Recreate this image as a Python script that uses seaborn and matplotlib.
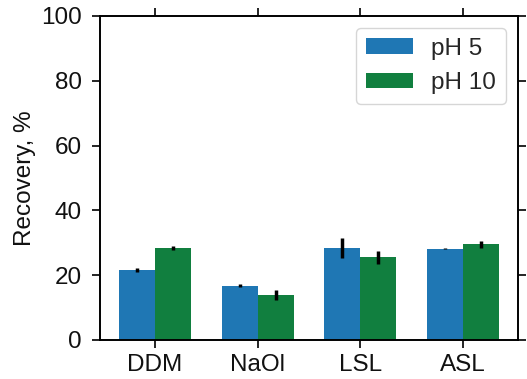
import numpy as np
import pandas as pd
import matplotlib
matplotlib.use("Agg")
import matplotlib.pyplot as plt
import seaborn as sns

# Recovery of each collector at two pH values (mean and error)
collectors = ["DDM", "NaOl", "LSL", "ASL"]
ph_labels = ["pH 5", "pH 10"]
recovery_ph5 = [21.6, 16.8, 28.4, 28.2]
recovery_ph10 = [28.5, 13.9, 25.5, 29.5]
error_ph5 = [0.7, 0.5, 3.0, 0.15]
error_ph10 = [0.6, 1.5, 2.0, 1.1]
y_ticks = [0, 20, 40, 60, 80, 100]

colors = ["#1f77b4", "#117f3f"]
FS = 17.5

df = pd.DataFrame({
    "collector": collectors * 2,
    "ph": [ph_labels[0]] * 4 + [ph_labels[1]] * 4,
    "recovery": recovery_ph5 + recovery_ph10,
})

sns.set_theme(style="ticks")
plt.rcParams["font.family"] = ["Liberation Sans", "DejaVu Sans"]

fig = plt.figure(figsize=(5.27, 3.79), dpi=100)
ax = fig.add_axes([0.19, 0.103, 0.793, 0.855])

sns.barplot(data=df, x="collector", y="recovery", hue="ph",
            palette=colors, width=0.7, errorbar=None, saturation=1,
            linewidth=0, ax=ax)

# error bars at the bar centres
for cont, errs in zip(ax.containers, [error_ph5, error_ph10]):
    xs = [p.get_x() + p.get_width() / 2 for p in cont.patches]
    hs = [p.get_height() for p in cont.patches]
    ax.errorbar(xs, hs, yerr=errs, fmt="none", ecolor="black",
                elinewidth=2.5, capsize=0, zorder=5)

ax.set_xlim(-0.535, 3.535)
ax.set_ylim(0, 100)
ax.set_yticks(y_ticks)
ax.set_xlabel("")
ax.set_ylabel("Recovery, %", fontsize=FS, color="#111111", labelpad=4)

for sp in ax.spines.values():
    sp.set_visible(True)
    sp.set_linewidth(1.4)
    sp.set_color("black")

ax.tick_params(axis="both", which="major", direction="out", length=6,
               width=1.2, colors="black", labelsize=FS, pad=4,
               top=True, right=True, labeltop=False, labelright=False)
ax.tick_params(axis="y", pad=7)
for lab in ax.get_xticklabels() + ax.get_yticklabels():
    lab.set_color("#111111")

leg = ax.legend(loc="upper right", fontsize=FS, frameon=True,
                handlelength=1.95, handleheight=0.62, borderpad=0.4,
                labelspacing=0.5, handletextpad=0.75, fancybox=True,
                borderaxespad=0.5)
leg.get_frame().set_edgecolor("#cccccc")
leg.get_frame().set_linewidth(1.0)
leg.set_title(None)

fig.savefig("out.png", dpi=100)
